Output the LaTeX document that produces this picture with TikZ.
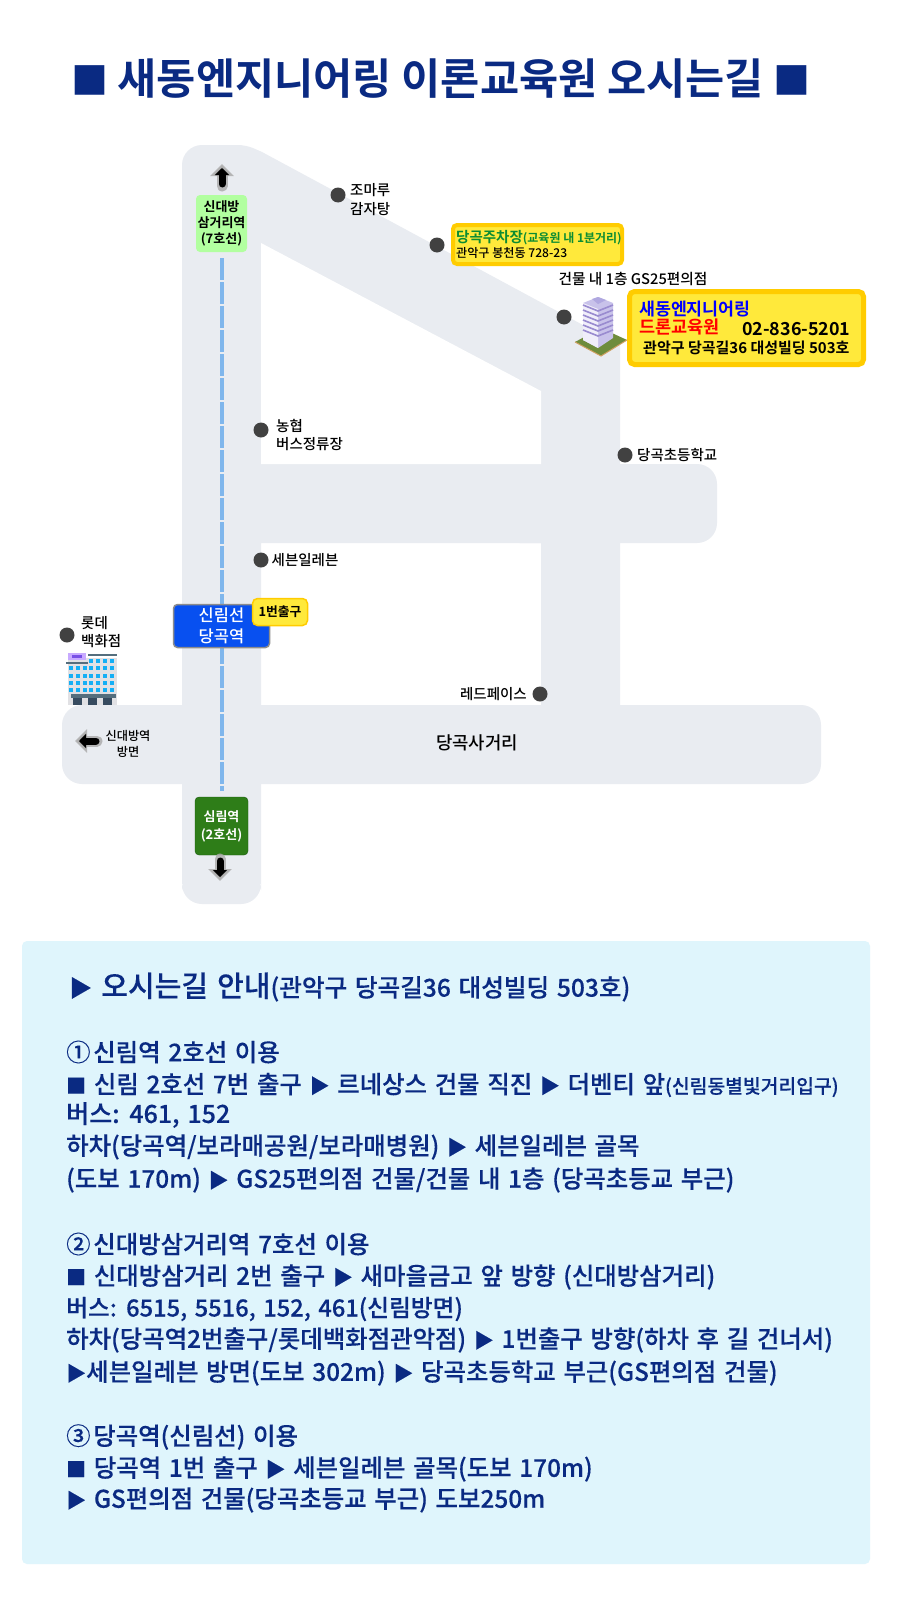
\documentclass[tikz,border=0pt]{standalone}
\usepackage{fontspec}
\setmainfont{Noto Sans CJK KR}[BoldFont={Noto Sans CJK KR Bold}]
\newfontfamily\med[FakeBold=0.2,WordSpace=1.4]{Noto Sans CJK KR Medium}
\newfontfamily\lbl{Noto Sans CJK KR Medium}
\newcommand\tri{{\fontsize{20}{20}\selectfont ▶}}
\newcommand\sqr{{\fontsize{20}{20}\selectfont ■}}
\usetikzlibrary{arrows.meta}
\definecolor{navy}{HTML}{0A2A82}
\definecolor{road}{HTML}{E9ECF1}
\definecolor{dot}{HTML}{414141}
\definecolor{panel}{HTML}{DFF5FC}
\definecolor{ygold}{HTML}{FFCC00}
\definecolor{yfill}{HTML}{FFE93B}
\definecolor{lineblue}{HTML}{7FB6EC}
\definecolor{sdgreen}{HTML}{B2FFA0}
\definecolor{srgreen}{HTML}{2E7D18}
\definecolor{srdark}{HTML}{195A0F}
\definecolor{dgblue}{HTML}{0850F0}
\definecolor{dggray}{HTML}{8C8C8C}
\definecolor{pkgreen}{HTML}{0C8C32}
\definecolor{tile}{HTML}{6E8C3C}
\definecolor{tileedge}{HTML}{D0A060}
\definecolor{towerd}{HTML}{C8C2EA}
\definecolor{towerl}{HTML}{F0EEFA}
\definecolor{towerline}{HTML}{9A8CD0}
\definecolor{towertop}{HTML}{B0A8E0}
\definecolor{lwall}{HTML}{E1E1E4}
\definecolor{lslate}{HTML}{556E7D}
\definecolor{lsign}{HTML}{C8AAFF}
\definecolor{lsignd}{HTML}{7850E6}
\definecolor{lwin}{HTML}{14AFF5}
\definecolor{ldoor}{HTML}{374B5F}
\tikzset{
 x=1pt,y=-1pt,
 poi/.style={circle,fill=dot,minimum size=15,inner sep=0},
 lab/.style={inner sep=0,align=left,anchor=west,font=\fontsize{14.5}{18.5}\selectfont\lbl},
 body/.style={anchor=west,inner sep=0,text=navy,font=\fontsize{24.4}{25}\selectfont\med},
 stn/.style={rounded corners=4,inner sep=0,align=center},
 halo/.style={-{Triangle[length=12,width=23]},draw=gray!65,opacity=.85,line width=11,line cap=round},
 blk/.style={-{Triangle[length=7,width=14]},draw=black,line width=7,line cap=round},
}
\begin{document}
\begin{tikzpicture}
\useasboundingbox (0,0) rectangle (900,1600);
\fill[white] (0,0) rectangle (900,1600);
% title
\node[inner sep=0,text=navy,font=\fontsize{42.6}{43}\selectfont\bfseries] (title) at (441,79) {{\fontsize{37}{37}\selectfont ■} 새동엔지니어링 이론교육원 오시는길 {\fontsize{37}{37}\selectfont ■}};
% roads
\fill[road] (182,884) [rounded corners=20] -- (182,145) [rounded corners=8] -- (246,145) [sharp corners] -- (262,152) -- (620,345) -- (620,720) -- (541,720) -- (541,543) -- (261,543) -- (261,884) -- cycle;
\fill[road,rounded corners=20] (182,870) -- (182,904) -- (261,904) -- (261,870) -- cycle;
\fill[road,rounded corners=20] (500,464) -- (717,464) -- (717,543) -- (500,543) -- cycle;
\fill[road] (255,464) rectangle (545,543);
\fill[road,rounded corners=20] (62,705) -- (821,705) -- (821,784) -- (62,784) -- cycle;
\fill[white] (261,243) -- (541,391) -- (541,464) -- (261,464) -- cycle;
% blue line
\coordinate (ltop) at (222,258);
\coordinate (lbot) at (222,791);
\draw[lineblue,line width=4,dash pattern=on 22 off 2] (ltop) -- (lbot);
% stations
\node[stn,fill=sdgreen,minimum width=51,minimum height=57,font=\fontsize{13}{16}\selectfont\bfseries] (sd) at (221.5,223.5) {신대방\\삼거리역\\(7호선)};
\node[stn,fill=srgreen,draw=srdark,minimum width=53,minimum height=58,text=white,font=\fontsize{13}{18}\selectfont\bfseries] (sr) at (221.5,826) {심림역\\(2호선)};
\node[stn,fill=dgblue,draw=dggray,line width=1.5,minimum width=96,minimum height=43,text=white,font=\fontsize{16.5}{21}\selectfont\lbl] (dg) at (221.5,626) {신림선\\당곡역};
\node[stn,rounded corners=5,fill=yfill,draw=ygold,line width=1.5,minimum width=55,minimum height=27,font=\fontsize{12.8}{13}\selectfont\bfseries] (ex1) at (280,612) {1번출구};
% arrows
\coordinate (au1) at (222,186); \coordinate (au2) at (222,164);
\coordinate (au3) at (222,184); \coordinate (au4) at (222,168);
\draw[halo] (au1) -- (au2);
\draw[blk] (au3) -- (au4);
\coordinate (ad1) at (220,859); \coordinate (ad2) at (220,881);
\coordinate (ad3) at (220,861); \coordinate (ad4) at (220,877);
\draw[halo] (ad1) -- (ad2);
\draw[blk] (ad3) -- (ad4);
\coordinate (al1) at (97,741); \coordinate (al2) at (75,741);
\coordinate (al3) at (96,741); \coordinate (al4) at (79,741);
\draw[halo] (al1) -- (al2);
\draw[blk] (al3) -- (al4);
% points of interest
\node[poi] (p1) at (338,195) {};
\node[lab] (t1) at (350,199.5) {조마루\\감자탕};
\node[poi] (p2) at (437,245) {};
\node[rounded corners=4,fill=yfill,draw=ygold,line width=4,minimum width=169,minimum height=39,inner sep=0] (pk) at (537.5,244.5) {};
\node[inner sep=0,anchor=west,text=pkgreen,font=\fontsize{14.5}{14}\selectfont\bfseries] (pk1) at (456,238) {당곡주차장{\fontsize{12}{12}\selectfont(교육원 내 1분거리)}};
\node[inner sep=0,anchor=west,font=\fontsize{12.1}{12}\selectfont\lbl] (pk2) at (456,253) {관악구 봉천동 728-23};
\node[inner sep=0,font=\fontsize{14.7}{15}\selectfont\lbl] (gs) at (633,279) {건물 내 1층 GS25편의점};
\node[poi] (p3) at (564,317) {};
% building
\fill[tile] (575,342) -- (601,328) -- (627,340) -- (601,356) -- cycle;
\draw[tileedge,line width=1] (575,342) -- (601,356) -- (627,340);
\fill[towerd] (583,303) -- (598,297) -- (613,303) -- (613,338) -- (598,348) -- (583,340) -- cycle;
\fill[towerl] (583,303) -- (598,309) -- (598,348) -- (583,340) -- cycle;
\foreach \yy in {305,310,...,330}{\draw[towerline,line width=1.6] (583,\yy) -- (598,\yy+6) -- (613,\yy);}
\fill[towertop] (592,299) -- (598,297) -- (606,300) -- (598,304) -- cycle;
% big sign
\node[rounded corners=5,fill=yfill,draw=ygold,line width=5,minimum width=234,minimum height=73,inner sep=0] (sign) at (746.5,328) {};
\node[inner sep=0,anchor=west,text=blue,font=\fontsize{17.3}{17}\selectfont\bfseries] (s1) at (639,309) {새동엔지니어링};
\node[inner sep=0,anchor=west,text=red,font=\fontsize{17.5}{17}\selectfont\bfseries] (s2) at (639,327) {드론교육원};
\node[inner sep=0,anchor=west,font=\fontsize{17.9}{18}\selectfont\bfseries] (s3) at (742,329) {02-836-5201};
\node[inner sep=0,anchor=west,font=\fontsize{15}{15}\selectfont\bfseries] (s4) at (643,348) {관악구 당곡길36 대성빌딩 503호};
\node[poi] (p4) at (261,430) {};
\node[lab] (t4) at (276,435) {농협\\버스정류장};
\node[poi] (p5) at (625,455) {};
\node[lab] (t5) at (637,455) {당곡초등학교};
\node[poi] (p6) at (261,560) {};
\node[lab] (t6) at (271.5,560) {세븐일레븐};
\node[poi] (p7) at (540,694) {};
\node[lab,anchor=east] (t7) at (527,694) {레드페이스};
\node[poi] (p8) at (67,635) {};
\node[lab] (t8) at (81,632) {롯데\\백화점};
\node[inner sep=0,align=center,font=\fontsize{12.2}{16}\selectfont\lbl] (t9) at (128,744) {신대방역\\방면};
\node[inner sep=0,font=\fontsize{17.8}{18}\selectfont\lbl] (t10) at (477,743) {당곡사거리};
% Lotte building
\fill[lwall] (68,658) rectangle (117,705);
\fill[lslate] (88,654) rectangle (117,656);
\fill[lsign] (68,653) rectangle (86,660);
\fill[lsignd] (72,655) rectangle (82,658);
\fill[lslate] (66,662) rectangle (88,664);
\foreach \xx in {90.5,97.5,104.5,111.5}{\fill[lwin] (\xx-2,661-2) rectangle +(4,4);}
\foreach \yy in {668,676,683,690}{\foreach \xx in {71,77.8,84.6,91,97.8,104.6,111.5}{\fill[lwin] (\xx-2,\yy-2) rectangle +(4,4);}}
\fill[lslate] (71,694) rectangle (116,698);
\foreach \xx in {72.5,88,103}{\fill[ldoor] (\xx,698) rectangle +(9,7);}
% panel
\fill[panel,rounded corners=5] (22,941) rectangle (870,1564);
\node[body,font=\fontsize{29}{30}\selectfont\med] (h) at (69,987) {{\fontsize{23}{23}\selectfont ▶} 오시는길 안내{\fontsize{24.6}{25}\selectfont(관악구 당곡길36 대성빌딩 503호)}};
\node[body] (l1) at (66,1052) {①\hspace{-5pt} 신림역 2호선 이용};
\node[body] (l2) at (66,1085) {\sqr{} 신림 2호선 7번 출구 \tri{} 르네상스 건물 직진 \tri{} 더벤티 앞{\fontsize{19.3}{19}\selectfont(신림동별빛거리입구)}};
\node[body,font=\fontsize{25}{25}\selectfont\med] (l3) at (66,1115) {버스: 461, 152};
\node[body] (l4) at (66,1147) {하차(당곡역/보라매공원/보라매병원) \tri{} 세븐일레븐 골목};
\node[body] (l5) at (66,1180) {(도보 170m) \tri{} GS25편의점 건물/건물 내 1층 (당곡초등교 부근)};
\node[body] (l6) at (66,1244) {②\hspace{-5pt} 신대방삼거리역 7호선 이용};
\node[body] (l7) at (66,1277) {\sqr{} 신대방삼거리 2번 출구 \tri{} 새마을금고 앞 방향 (신대방삼거리)};
\node[body,font=\fontsize{23.7}{25}\selectfont\med] (l8) at (66,1309) {버스: 6515, 5516, 152, 461(신림방면)};
\node[body] (l9) at (66,1340) {하차(당곡역2번출구/롯데백화점관악점) \tri{} 1번출구 방향(하차 후 길 건너서)};
\node[body] (l10) at (66,1373) {\tri{}세븐일레븐 방면(도보 302m) \tri{} 당곡초등학교 부근(GS편의점 건물)};
\node[body] (l11) at (66,1437) {③\hspace{-5pt} 당곡역(신림선) 이용};
\node[body] (l12) at (66,1469) {\sqr{} 당곡역 1번 출구 \tri{} 세븐일레븐 골목(도보 170m)};
\node[body] (l13) at (66,1500) {\tri{} GS편의점 건물(당곡초등교 부근) 도보250m};
\end{tikzpicture}
\end{document}
